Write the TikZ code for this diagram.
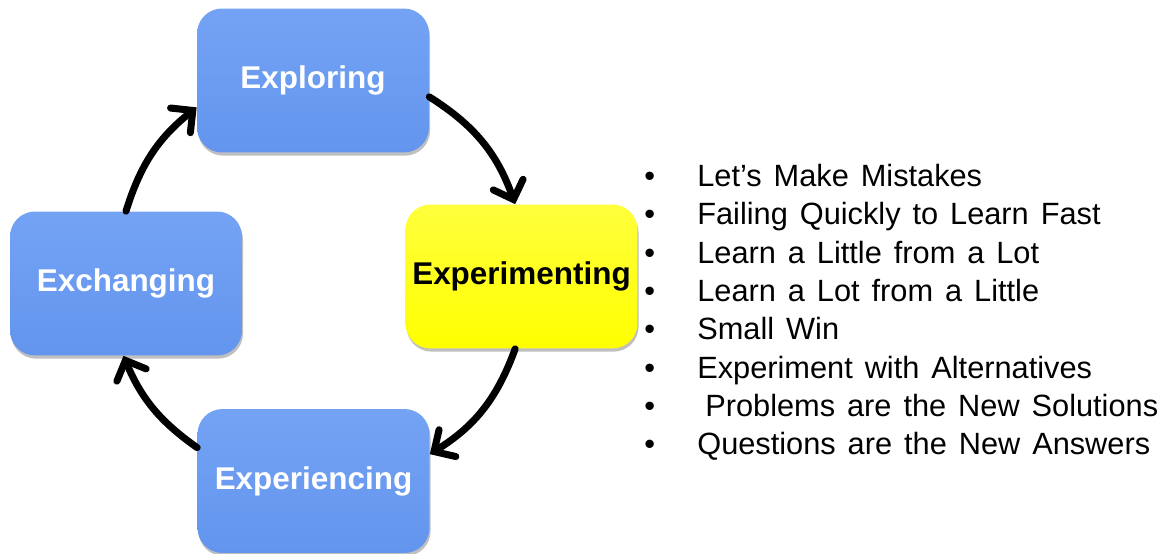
\documentclass[tikz,border=0pt]{standalone}
\usepackage{fontspec}
\setmainfont{Liberation Sans}
\newfontfamily\pointfont[WordSpace=1.4]{Liberation Sans}
\usetikzlibrary{arrows.meta,shadows}

\definecolor{stageblue}{RGB}{99,149,238}
\definecolor{stagebluetop}{RGB}{116,163,244}
\definecolor{stageyellow}{RGB}{255,255,0}
\definecolor{stageyellowtop}{RGB}{255,255,60}

\begin{document}
\begin{tikzpicture}[x=0.02cm, y=-0.02cm,
  stage/.style={rounded corners=0.5cm, minimum width=4.64cm, minimum height=2.88cm,
    inner sep=0pt, font=\bfseries\fontsize{17.9}{20}\selectfont,
    drop shadow={shadow xshift=0.6pt, shadow yshift=-1.8pt, opacity=0.25, fill=black}},
  bluestage/.style={stage, top color=stagebluetop, bottom color=stageblue, text=white},
  yellowstage/.style={stage, top color=stageyellowtop, bottom color=stageyellow, text=black},
  cyclearrow/.style={line width=4pt, line cap=round,
    -{Straight Barb[length=9pt,width=18pt,line cap=round]}},
  point/.style={anchor=base west, inner sep=0pt, font=\pointfont\fontsize{17.5}{20}\selectfont}]
  \useasboundingbox (0,0) rectangle (1169,554);

  % Cycle boxes
  \node[bluestage] (explore) at (313,80.5) {Exploring};
  \node[yellowstage] (experiment) at (521.5,276.5) {Experimenting};
  \node[bluestage] (exchange) at (126,283.5) {Exchanging};
  \node[bluestage] (experience) at (313.5,481) {Experiencing};

  % Arrows round the cycle
  \draw[cyclearrow] (explore.-8) to[bend left=19] (experiment.95);
  \draw[cyclearrow] (experiment.265) to[bend left=19] (experience.13);
  \draw[cyclearrow] (experience.164) to[bend left=16] (exchange.268);
  \draw[cyclearrow] (exchange.90) to[bend left=17] (explore.193);

  % Bullet points
  \node[point] (item1) at (644,186) {\makebox[1.06cm][l]{\textbullet}Let’s Make Mistakes};
  \node[point] (item2) at (644,224) {\makebox[1.06cm][l]{\textbullet}Failing Quickly to Learn Fast};
  \node[point] (item3) at (644,263) {\makebox[1.06cm][l]{\textbullet}Learn a Little from a Lot};
  \node[point] (item4) at (644,301) {\makebox[1.06cm][l]{\textbullet}Learn a Lot from a Little};
  \node[point] (item5) at (644,339) {\makebox[1.06cm][l]{\textbullet}Small Win};
  \node[point] (item6) at (644,378) {\makebox[1.06cm][l]{\textbullet}Experiment with Alternatives};
  \node[point] (item7) at (644,416) {\makebox[1.06cm][l]{\textbullet}\hspace{0.16cm}Problems are the New Solutions};
  \node[point] (item8) at (644,454) {\makebox[1.06cm][l]{\textbullet}Questions are the New Answers};
\end{tikzpicture}
\end{document}
